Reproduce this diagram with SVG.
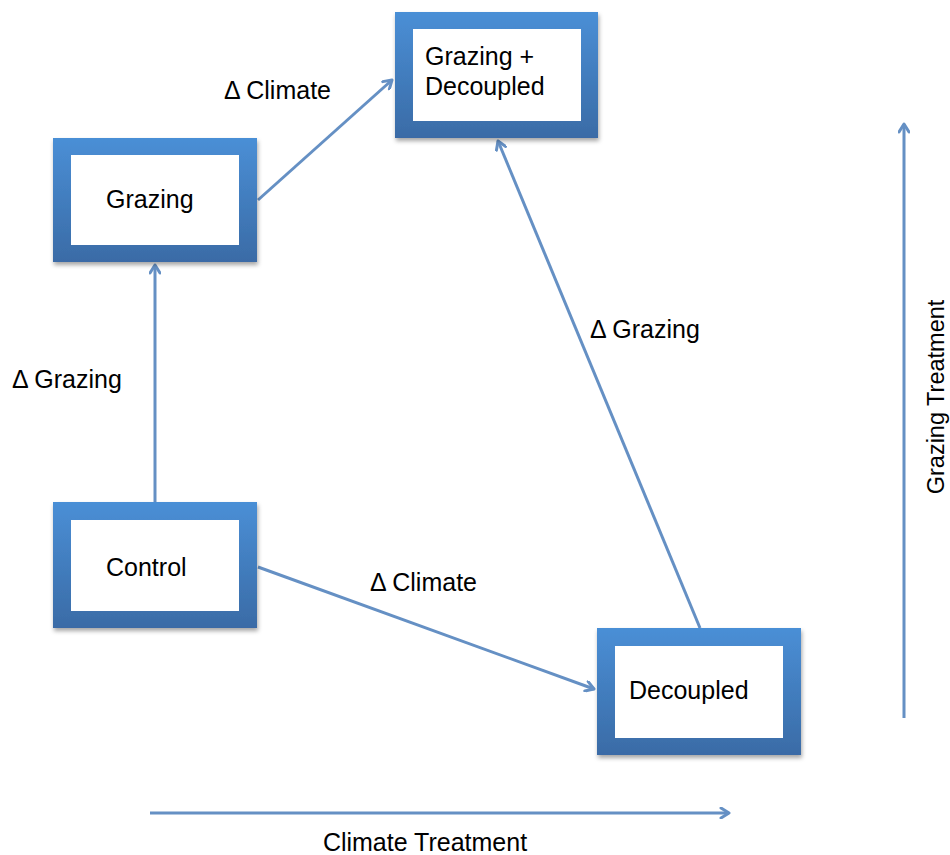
<svg xmlns="http://www.w3.org/2000/svg" width="950" height="855" viewBox="0 0 950 855">
<style>
text{font-family:"Liberation Sans",Arial,sans-serif;font-size:25px;fill:#000}
.frame{fill:url(#g);filter:url(#sh)}
.inner{fill:#fff}
.c{stroke:#6590c4;stroke-width:3;fill:none;marker-end:url(#ah)}
</style>
<defs>
<linearGradient id="g" x1="0" y1="0" x2="0" y2="1">
<stop offset="0" stop-color="#4a8fd6"/>
<stop offset="1" stop-color="#3a6ba6"/>
</linearGradient>
<filter id="sh" x="-10%" y="-10%" width="125%" height="130%">
<feDropShadow dx="1" dy="3" stdDeviation="2" flood-color="#000" flood-opacity="0.35"/>
</filter>
<marker id="ah" viewBox="0 0 12 12" refX="10" refY="6" markerWidth="12" markerHeight="12" markerUnits="userSpaceOnUse" orient="auto">
<path d="M2,1 L10,6 L2,11" fill="none" stroke="#6590c4" stroke-width="3" stroke-linecap="round" stroke-linejoin="round"/>
</marker>
</defs>
<g id="connectors">
<line class="c" x1="155" y1="502" x2="155" y2="265"/>
<line class="c" x1="258" y1="200" x2="392" y2="80"/>
<line class="c" x1="258" y1="567" x2="594" y2="689"/>
<line class="c" x1="700" y1="628" x2="498" y2="141"/>
<line class="c" x1="904" y1="718" x2="904" y2="124"/>
<line class="c" x1="150" y1="813" x2="729" y2="813"/>
</g>
<g id="grazing">
<rect class="frame" x="53" y="138" width="204" height="124"/>
<rect class="inner" x="71" y="155" width="168" height="90"/>
<text x="106" y="208">Grazing</text>
</g>
<g id="grazing-decoupled">
<rect class="frame" x="395" y="12" width="203" height="126"/>
<rect class="inner" x="413" y="29" width="168" height="92"/>
<text x="425" y="65">Grazing +</text>
<text x="425" y="95">Decoupled</text>
</g>
<g id="control">
<rect class="frame" x="53" y="502" width="204" height="126"/>
<rect class="inner" x="71" y="520" width="168" height="91"/>
<text x="106" y="576">Control</text>
</g>
<g id="decoupled">
<rect class="frame" x="597" y="628" width="204" height="127"/>
<rect class="inner" x="615" y="646" width="168" height="92"/>
<text x="629" y="699">Decoupled</text>
</g>
<g id="labels">
<text x="224" y="99">Δ Climate</text>
<text x="12" y="388">Δ Grazing</text>
<text x="590" y="338">Δ Grazing</text>
<text x="370" y="591">Δ Climate</text>
<text transform="translate(944,397) rotate(-90)" text-anchor="middle" style="font-size:23.5px">Grazing Treatment</text>
<text x="425" y="851" text-anchor="middle">Climate Treatment</text>
</g>
</svg>
